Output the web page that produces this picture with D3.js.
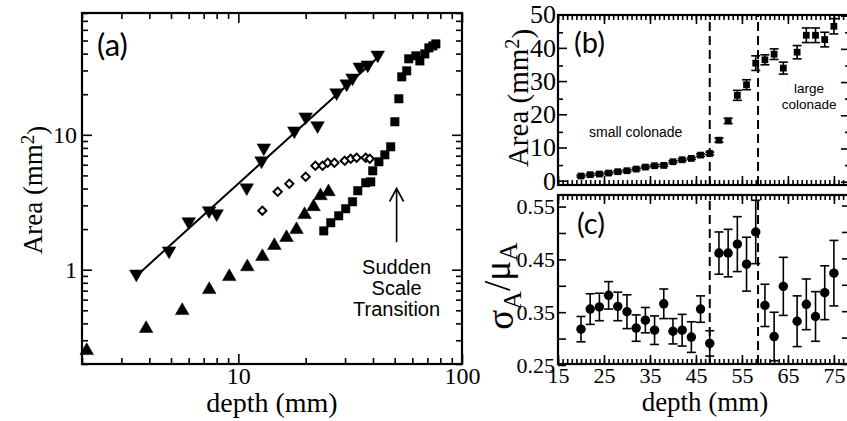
<!DOCTYPE html>
<html>
<head>
<meta charset="utf-8">
<script src="https://cdn.jsdelivr.net/npm/d3@7"></script>
<style>
  body { margin: 0; background: #fff; }
  svg { display: block; }
</style>
</head>
<body>
<svg id="fig" width="847" height="421"></svg>
<script>
// ---- panel (a): area vs depth, log-log
var downDepth = [3.5, 4.9, 6.0, 7.4, 8.0, 10.9, 12.7, 13.0, 17.8, 20.0, 22.6, 27.5, 30.5, 32.4, 34.9, 37.9, 42.0];
var downArea  = [0.93, 1.38, 2.27, 2.74, 2.60, 4.05, 6.42, 8.01, 10.7, 13.6, 11.7, 20.5, 23.9, 26.4, 31.9, 33.0, 39.1];
var upDepth   = [2.1, 3.87, 5.61, 7.41, 9.11, 10.97, 12.81, 14.49, 16.42, 18.2, 19.77, 21.7, 23.3, 25.3];
var upArea    = [0.251, 0.366, 0.497, 0.711, 0.888, 1.05, 1.25, 1.51, 1.73, 1.98, 2.56, 2.93, 3.53, 3.78];
var diamondDepth = [12.8, 15.0, 16.9, 20.0, 22.1, 23.8, 25.1, 26.9, 29.9, 31.8, 33.8, 37.1, 38.7];
var diamondArea  = [2.74, 3.78, 4.34, 4.89, 5.89, 5.89, 6.20, 6.20, 6.42, 6.64, 6.76, 6.76, 6.64];
var squareDepth = [24.1, 25.9, 28.1, 30.2, 32.4, 34.2, 37.1, 39.1, 39.9, 42.5, 45.2, 48.0, 50.1, 52.2, 53.8, 56.6, 57.8, 62.2, 64.8, 68.2, 71.1, 74.1, 76.4];
var squareArea  = [1.94, 2.23, 2.51, 2.83, 3.19, 3.85, 4.41, 4.48, 5.41, 6.31, 7.11, 8.15, 12.5, 18.5, 26.9, 29.8, 36.6, 38.5, 35.3, 39.8, 44.1, 45.6, 47.2];
var fitDepth = [3.5, 43];
var fitArea  = [0.9, 38.8];
var aXMajor = [10, 100];
var aXMinor = [2, 3, 4, 5, 6, 7, 8, 9, 20, 30, 40, 50, 60, 70, 80, 90];
var aYMajor = [1, 10];
var aYMinor = [0.2, 0.3, 0.4, 0.5, 0.6, 0.7, 0.8, 0.9, 2, 3, 4, 5, 6, 7, 8, 9, 20, 30, 40, 50, 60, 70, 80];

// ---- panels (b) and (c): mean area and relative spread per depth
var depthBC = [20, 22, 24, 26, 28, 30, 32, 34, 36, 38, 40, 42, 44, 46, 48, 50, 52, 54, 56, 58, 60, 62, 64, 67, 69, 71, 73, 75];
var areaB   = [1.7, 2.1, 2.3, 2.6, 3.0, 3.3, 3.8, 4.4, 4.8, 4.9, 6.0, 6.6, 7.0, 8.0, 8.5, 12.5, 18.3, 26.0, 29.2, 35.7, 36.7, 38.4, 34.2, 39.0, 44.1, 44.1, 42.8, 46.8];
var areaErr = [0.3, 0.3, 0.3, 0.3, 0.3, 0.3, 0.3, 0.3, 0.3, 0.3, 0.3, 0.3, 0.3, 0.4, 0.4, 0.6, 0.8, 1.5, 1.5, 2.2, 1.5, 1.6, 1.8, 2.0, 2.2, 2.2, 2.2, 2.3];
var ratioC   = [0.316, 0.354, 0.358, 0.380, 0.359, 0.349, 0.318, 0.333, 0.314, 0.364, 0.312, 0.314, 0.301, 0.354, 0.289, 0.460, 0.460, 0.477, 0.439, 0.500, 0.361, 0.302, 0.397, 0.331, 0.363, 0.340, 0.385, 0.422];
var ratioErr = [0.024, 0.029, 0.026, 0.026, 0.027, 0.032, 0.025, 0.024, 0.027, 0.028, 0.024, 0.030, 0.029, 0.025, 0.024, 0.040, 0.045, 0.052, 0.051, 0.060, 0.040, 0.046, 0.055, 0.048, 0.048, 0.047, 0.051, 0.062];
var boundaries = [48, 58.5];
var bcXLabels = [15, 25, 35, 45, 55, 65, 75];
var bYLabels  = [0, 10, 20, 30, 40, 50];
var cYTicks   = [0.25, 0.30, 0.35, 0.40, 0.45, 0.50, 0.55];
var cYLabels  = [0.25, 0.35, 0.45, 0.55];

var SERIF = '"Liberation Serif", "Times New Roman", serif';
var SANS  = '"Liberation Sans", Arial, sans-serif';
var TAG   = 'Lato, "Open Sans", sans-serif';

var svg = d3.select('#fig');

// scales
var xA = d3.scaleLog().domain([2, 100]).range([82, 462]);
var yA = d3.scaleLog().domain([0.2, 80]).range([364, 13]);
var xBC = d3.scaleLinear().domain([15, 78.5]).range([558, 850]);
var yB = d3.scaleLinear().domain([-1, 50.2]).range([185, 15]);
var yC = d3.scaleLinear().domain([0.25, 0.57]).range([364, 195]);

// draw one set of inward ticks
function tickSet(axisFn, scale, vals, len, fmt, pad, tr, font, size) {
  var g = svg.append('g')
      .attr('transform', tr)
      .call(axisFn(scale).tickValues(vals).tickSize(-len).tickSizeOuter(0)
        .tickFormat(fmt || '').tickPadding(pad || 0));
  g.select('.domain').remove();
  g.selectAll('.tick line').attr('stroke', '#000').attr('stroke-width', 1.6);
  g.selectAll('text').attr('fill', '#000');
  g.attr('font-family', font || SERIF).attr('font-size', size || 20);
  return g;
}

function frame(x, y) {
  var r = x.range(), s = y.range();
  svg.append('rect')
      .attr('x', r[0]).attr('y', s[1])
      .attr('width', r[1] - r[0]).attr('height', s[0] - s[1])
      .attr('fill', 'none').attr('stroke', '#000').attr('stroke-width', 2.2);
}

function tr(x, y) { return 'translate(' + x + ',' + y + ')'; }

// ================= panel (a)
var aL = 82, aR = 462, aT = 13, aB = 364;
tickSet(d3.axisBottom, xA, aXMajor, 10, function (d) { return d; }, 3, tr(0, aB), SERIF, 24);
tickSet(d3.axisBottom, xA, aXMinor, 6, null, 0, tr(0, aB));
tickSet(d3.axisTop, xA, aXMajor, 10, null, 0, tr(0, aT));
tickSet(d3.axisTop, xA, aXMinor, 6, null, 0, tr(0, aT));
tickSet(d3.axisLeft, yA, aYMajor, 10, function (d) { return d; }, 5, tr(aL, 0), SERIF, 24);
tickSet(d3.axisLeft, yA, aYMinor, 6, null, 0, tr(aL, 0));
tickSet(d3.axisRight, yA, aYMajor, 10, null, 0, tr(aR, 0));
tickSet(d3.axisRight, yA, aYMinor, 6, null, 0, tr(aR, 0));
frame(xA, yA);

var gA = svg.append('g');
gA.append('path')
    .datum(d3.zip(fitDepth, fitArea))
    .attr('fill', 'none').attr('stroke', '#000').attr('stroke-width', 2)
    .attr('d', d3.line().x(function (d) { return xA(d[0]); }).y(function (d) { return yA(d[1]); }));

function markers(g, xs, ys, sx, sy, type, size, rot, filled) {
  g.selectAll(null)
      .data(d3.zip(xs, ys))
      .enter().append('path')
      .attr('transform', function (d) { return tr(sx(d[0]), sy(d[1])) + ' rotate(' + rot + ')'; })
      .attr('d', d3.symbol().type(type).size(size))
      .attr('fill', filled ? '#000' : '#fff')
      .attr('stroke', '#000')
      .attr('stroke-width', filled ? 0.5 : 2);
}
markers(gA, diamondDepth, diamondArea, xA, yA, d3.symbolSquare, 34, 45, false);
markers(gA, upDepth, upArea, xA, yA, d3.symbolTriangle, 80, 0, true);
markers(gA, downDepth, downArea, xA, yA, d3.symbolTriangle, 80, 180, true);
markers(gA, squareDepth, squareArea, xA, yA, d3.symbolSquare, 72, 0, true);

// arrow + note
var arrowX = 51, arrowTop = 4.0, arrowBot = 1.6;
gA.append('line')
    .attr('x1', xA(arrowX)).attr('x2', xA(arrowX))
    .attr('y1', yA(arrowBot)).attr('y2', yA(arrowTop) + 1)
    .attr('stroke', '#000').attr('stroke-width', 1.6);
gA.append('path')
    .attr('d', 'M' + (xA(arrowX) - 7) + ',' + (yA(arrowTop) + 13) + 'L' + xA(arrowX) + ',' + yA(arrowTop) +
               'L' + (xA(arrowX) + 7) + ',' + (yA(arrowTop) + 13))
    .attr('fill', 'none').attr('stroke', '#000').attr('stroke-width', 1.6);
var note = gA.append('text')
    .attr('font-family', SANS).attr('font-size', 20).attr('text-anchor', 'middle');
['Sudden', 'Scale', 'Transition'].forEach(function (t, i) {
  note.append('tspan').attr('x', xA(arrowX)).attr('y', 274 + i * 21).text(t);
});

svg.append('text').attr('x', 97).attr('y', 56)
    .attr('font-family', TAG).attr('font-size', 31).text('(a)');

svg.append('text').attr('x', 272).attr('y', 412).attr('text-anchor', 'middle')
    .attr('font-family', SERIF).attr('font-size', 28).text('depth (mm)');

var yLabA = svg.append('text').attr('transform', tr(42, 190) + ' rotate(-90)')
    .attr('text-anchor', 'middle').attr('font-family', SERIF).attr('font-size', 27);
yLabA.append('tspan').text('Area (mm');
yLabA.append('tspan').attr('dy', '-0.45em').attr('font-size', '0.7em').text('2');
yLabA.append('tspan').attr('dy', '0.45em').text(')');

// ================= panel (b)
var bcMinor = d3.range(15, 79, 1);
var bT = 15, bB = 185, cT = 195, cB = 364, bcL = 558, bcR = 850;
tickSet(d3.axisBottom, xBC, bcXLabels, 9, null, 0, tr(0, bB));
tickSet(d3.axisBottom, xBC, bcMinor, 5, null, 0, tr(0, bB));
tickSet(d3.axisTop, xBC, bcXLabels, 9, null, 0, tr(0, bT));
tickSet(d3.axisTop, xBC, bcMinor, 5, null, 0, tr(0, bT));
tickSet(d3.axisLeft, yB, bYLabels, 9, function (d) { return d; }, 2, tr(bcL, -1), SERIF, 26);
tickSet(d3.axisLeft, yB, d3.range(5, 50, 10), 5, null, 0, tr(bcL, 0));
tickSet(d3.axisRight, yB, bYLabels, 9, null, 0, tr(bcR, 0));
tickSet(d3.axisRight, yB, d3.range(5, 50, 10), 5, null, 0, tr(bcR, 0));
frame(xBC, yB);

var gB = svg.append('g');
function dashes(g, y) {
  g.selectAll(null).data(boundaries).enter().append('line')
      .attr('x1', xBC).attr('x2', xBC)
      .attr('y1', y.range()[0]).attr('y2', y.range()[1])
      .attr('stroke', '#000').attr('stroke-width', 2).attr('stroke-dasharray', '9,5');
}
function errorBars(g, xs, ys, es, sy, type, size) {
  var rows = d3.zip(xs, ys, es);
  var bars = g.selectAll(null).data(rows).enter().append('g')
      .attr('stroke', '#000').attr('stroke-width', 1.6);
  bars.append('line')
      .attr('x1', function (d) { return xBC(d[0]); }).attr('x2', function (d) { return xBC(d[0]); })
      .attr('y1', function (d) { return sy(d[1] - d[2]); }).attr('y2', function (d) { return sy(d[1] + d[2]); });
  [-1, 1].forEach(function (k) {
    bars.append('line')
        .attr('x1', function (d) { return xBC(d[0]) - 4.5; }).attr('x2', function (d) { return xBC(d[0]) + 4.5; })
        .attr('y1', function (d) { return sy(d[1] + k * d[2]); }).attr('y2', function (d) { return sy(d[1] + k * d[2]); });
  });
  g.selectAll(null).data(rows).enter().append('path')
      .attr('transform', function (d) { return tr(xBC(d[0]), sy(d[1])); })
      .attr('d', d3.symbol().type(type).size(size))
      .attr('fill', '#000');
}
dashes(gB, yB);
errorBars(gB, depthBC, areaB, areaErr, yB, d3.symbolSquare, 46);

gB.append('text').attr('x', xBC(31.9)).attr('y', yB(13.5)).attr('text-anchor', 'middle')
    .attr('font-family', SANS).attr('font-size', 14).text('small colonade');
gB.append('text').attr('x', xBC(69.6)).attr('y', yB(26.8)).attr('text-anchor', 'middle')
    .attr('font-family', SANS).attr('font-size', 13.5).text('large');
gB.append('text').attr('x', xBC(69.6)).attr('y', yB(21.9)).attr('text-anchor', 'middle')
    .attr('font-family', SANS).attr('font-size', 13.5).text('colonade');

svg.append('text').attr('x', 574).attr('y', 53)
    .attr('font-family', TAG).attr('font-size', 29).text('(b)');

var yLabB = svg.append('text').attr('transform', tr(528, 98) + ' rotate(-90)')
    .attr('text-anchor', 'middle').attr('font-family', SERIF).attr('font-size', 29);
yLabB.append('tspan').text('Area (mm');
yLabB.append('tspan').attr('dy', '-0.45em').attr('font-size', '0.7em').text('2');
yLabB.append('tspan').attr('dy', '0.45em').text(')');

// ================= panel (c)
tickSet(d3.axisBottom, xBC, bcXLabels, 9, function (d) { return d; }, 3, tr(0, cB), SERIF, 22);
tickSet(d3.axisBottom, xBC, bcMinor, 5, null, 0, tr(0, cB));
tickSet(d3.axisTop, xBC, bcXLabels, 9, null, 0, tr(0, cT));
tickSet(d3.axisTop, xBC, bcMinor, 5, null, 0, tr(0, cT));
tickSet(d3.axisLeft, yC, cYTicks, 8, function (d) {
  return cYLabels.indexOf(d) >= 0 ? d3.format('.2f')(d) : '';
}, 3, tr(bcL, 1), SERIF, 22);
tickSet(d3.axisRight, yC, cYTicks, 8, null, 0, tr(bcR, 0));
frame(xBC, yC);

var gC = svg.append('g');
svg.append('clipPath').attr('id', 'clipC').append('rect')
    .attr('x', bcL).attr('y', cT).attr('width', bcR - bcL).attr('height', cB - cT);
gC.attr('clip-path', 'url(#clipC)');
dashes(gC, yC);
errorBars(gC, depthBC, ratioC, ratioErr, yC, d3.symbolCircle, 70);

svg.append('text').attr('x', 577).attr('y', 234)
    .attr('font-family', TAG).attr('font-size', 29).text('(c)');

svg.append('text').attr('x', 705).attr('y', 411).attr('text-anchor', 'middle')
    .attr('font-family', SERIF).attr('font-size', 27).text('depth (mm)');

var yLabC = svg.append('text').attr('transform', tr(513, 286) + ' rotate(-90)')
    .attr('text-anchor', 'middle').attr('font-family', SERIF).attr('font-size', 37);
yLabC.append('tspan').text('σ');
yLabC.append('tspan').attr('dy', '0.3em').attr('font-size', '0.7em').text('A');
yLabC.append('tspan').attr('dy', '-0.3em').text('/μ');
yLabC.append('tspan').attr('dy', '0.3em').attr('font-size', '0.7em').text('A');
</script>
</body>
</html>
